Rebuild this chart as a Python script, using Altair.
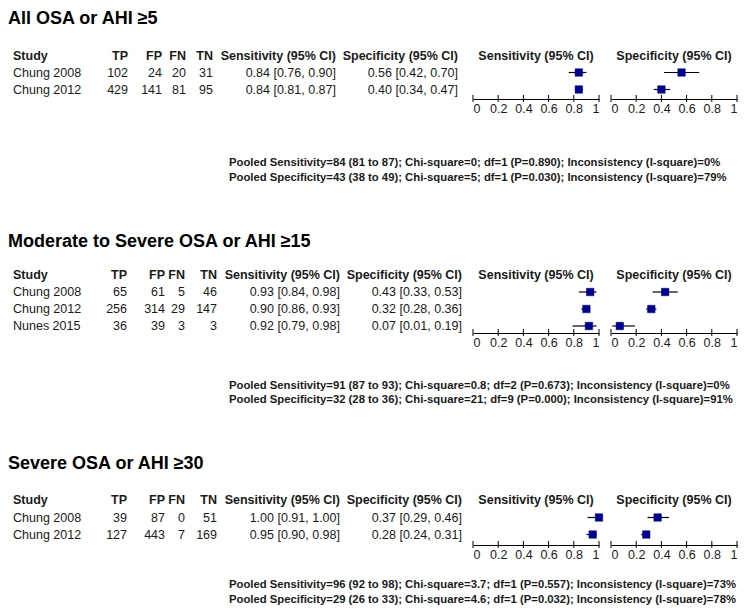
import altair as alt
import pandas as pd

# ---------------- data ----------------
section_titles = ["All OSA or AHI \u22655", "Moderate to Severe OSA or AHI \u226515", "Severe OSA or AHI \u226530"]

s1_study = ["Chung 2008", "Chung 2012"]
s1_tp = [102, 429]
s1_fp = [24, 141]
s1_fn = [20, 81]
s1_tn = [31, 95]
s1_sens = [0.84, 0.84]
s1_sens_lo = [0.76, 0.81]
s1_sens_hi = [0.90, 0.87]
s1_spec = [0.56, 0.40]
s1_spec_lo = [0.42, 0.34]
s1_spec_hi = [0.70, 0.47]
s1_pooled = [
    "Pooled Sensitivity=84 (81 to 87); Chi-square=0; df=1 (P=0.890); Inconsistency (I-square)=0%",
    "Pooled Specificity=43 (38 to 49); Chi-square=5; df=1 (P=0.030); Inconsistency (I-square)=79%",
]

s2_study = ["Chung 2008", "Chung 2012", "Nunes 2015"]
s2_tp = [65, 256, 36]
s2_fp = [61, 314, 39]
s2_fn = [5, 29, 3]
s2_tn = [46, 147, 3]
s2_sens = [0.93, 0.90, 0.92]
s2_sens_lo = [0.84, 0.86, 0.79]
s2_sens_hi = [0.98, 0.93, 0.98]
s2_spec = [0.43, 0.32, 0.07]
s2_spec_lo = [0.33, 0.28, 0.01]
s2_spec_hi = [0.53, 0.36, 0.19]
s2_pooled = [
    "Pooled Sensitivity=91 (87 to 93); Chi-square=0.8; df=2 (P=0.673); Inconsistency (I-square)=0%",
    "Pooled Specificity=32 (28 to 36); Chi-square=21; df=9 (P=0.000); Inconsistency (I-square)=91%",
]

s3_study = ["Chung 2008", "Chung 2012"]
s3_tp = [39, 127]
s3_fp = [87, 443]
s3_fn = [0, 7]
s3_tn = [51, 169]
s3_sens = [1.00, 0.95]
s3_sens_lo = [0.91, 0.90]
s3_sens_hi = [1.00, 0.98]
s3_spec = [0.37, 0.28]
s3_spec_lo = [0.29, 0.24]
s3_spec_hi = [0.46, 0.31]
s3_pooled = [
    "Pooled Sensitivity=96 (92 to 98); Chi-square=3.7; df=1 (P=0.557); Inconsistency (I-square)=73%",
    "Pooled Specificity=29 (26 to 33); Chi-square=4.6; df=1 (P=0.032); Inconsistency (I-square)=78%",
]

col_headers = ["Study", "TP", "FP", "FN", "TN", "Sensitivity (95% CI)", "Specificity (95% CI)"]
axis_ticks = [0, 0.2, 0.4, 0.6, 0.8, 1]

# ---------------- layout (page pixel positions) ----------------
FONT = "Liberation Sans"
TXT = "#1a1a1a"
NAVY = "#000090"
ORIGIN = 8
W, H = 734, 594
SENS_RANGE = [465, 591]
SPEC_RANGE = [603, 729]
POOL_X = 221
FS = 12.5
POOL_FS = 11.3

LAYOUTS = [
    dict(title=19, header=56, rows=[72.5, 89.5], axis=99,
         pooled=[163, 177.5], cols=[13, 128, 162, 186, 213, 336, 458]),
    dict(title=242, header=275, rows=[292, 309, 326], axis=333,
         pooled=[386, 400], cols=[13, 127, 165, 185, 217, 340, 462]),
    dict(title=464, header=500, rows=[517.5, 534.5], axis=545,
         pooled=[585, 599.5], cols=[13, 127, 165, 185, 217, 340, 462]),
]


def Y(v):
    return v - ORIGIN


def fmt(v, lo, hi):
    return f"{v:.2f} [{lo:.2f}, {hi:.2f}]"


def section_layers(k, title, study, tp, fp, fn, tn, se, se_lo, se_hi, sp, sp_lo, sp_hi, pooled, L):
    df = pd.DataFrame(dict(study=study, TP=tp, FP=fp, FN=fn, TN=tn,
                           se=se, se_lo=se_lo, se_hi=se_hi,
                           sp=sp, sp_lo=sp_lo, sp_hi=sp_hi))
    df["se_txt"] = [fmt(a, b, c) for a, b, c in zip(se, se_lo, se_hi)]
    df["sp_txt"] = [fmt(a, b, c) for a, b, c in zip(sp, sp_lo, sp_hi)]
    base = alt.Chart(df)

    yscale = alt.Scale(type="point", domain=study,
                       range=[Y(L["rows"][0]), Y(L["rows"][-1])], padding=0)
    yenc = alt.Y("study:N", scale=yscale, axis=None)

    layers = []
    layers.append(
        alt.Chart(pd.DataFrame({"t": [title]})).mark_text(
            align="left", baseline="middle", fontSize=18, fontWeight="bold",
            font=FONT, color="black"
        ).encode(text="t:N", x=alt.value(0), y=alt.value(Y(L["title"])))
    )
    fields = ["study", "TP", "FP", "FN", "TN", "se_txt", "sp_txt"]
    for i, (hdr, fld) in enumerate(zip(col_headers, fields)):
        align = "left" if i == 0 else "right"
        xpx = L["cols"][i] - ORIGIN
        layers.append(
            alt.Chart(pd.DataFrame({"t": [hdr]})).mark_text(
                align=align, baseline="middle", fontSize=FS, fontWeight="bold",
                font=FONT, color=TXT
            ).encode(text="t:N", x=alt.value(xpx), y=alt.value(Y(L["header"])))
        )
        layers.append(
            base.mark_text(align=align, baseline="middle", fontSize=FS,
                           font=FONT, color=TXT
                           ).encode(text=alt.Text(f"{fld}:N"), x=alt.value(xpx), y=yenc)
        )

    for rng, (c, lo, hi), hdr in [
        (SENS_RANGE, ("se", "se_lo", "se_hi"), "Sensitivity (95% CI)"),
        (SPEC_RANGE, ("sp", "sp_lo", "sp_hi"), "Specificity (95% CI)"),
    ]:
        xs = alt.Scale(domain=[0, 1], range=rng, nice=False, zero=False)
        layers.append(
            alt.Chart(pd.DataFrame({"t": [hdr]})).mark_text(
                align="center", baseline="middle", fontSize=FS, fontWeight="bold",
                font=FONT, color=TXT
            ).encode(text="t:N", x=alt.value((rng[0] + rng[1]) / 2),
                     y=alt.value(Y(L["header"])))
        )
        ay = Y(L["axis"])
        layers.append(
            alt.Chart(pd.DataFrame({"v": axis_ticks})).mark_rule(
                color="black", strokeWidth=1
            ).encode(
                x=alt.X("v:Q", scale=xs, axis=alt.Axis(
                    orient="bottom", offset=ay - H, values=axis_ticks, format="~g",
                    ticks=False, tickSize=0, grid=False, title=None,
                    domainColor="black", domainWidth=1,
                    labelFont=FONT, labelFontSize=12.5, labelColor=TXT,
                    labelPadding=3, labelFlush=True, labelOverlap=False)),
                y=alt.value(ay - 4), y2=alt.value(ay + 3),
            )
        )
        layers.append(
            base.mark_rule(color="black", strokeWidth=1.2).encode(
                x=alt.X(f"{lo}:Q", scale=xs, axis=None), x2=f"{hi}:Q", y=yenc)
        )
        layers.append(
            base.mark_square(size=56, color=NAVY, opacity=1,
                             stroke="#00006a", strokeWidth=0.5).encode(
                x=alt.X(f"{c}:Q", scale=xs, axis=None), y=yenc)
        )

    pdf = pd.DataFrame({"line": [f"{k}a", f"{k}b"], "t": pooled})
    layers.append(
        alt.Chart(pdf).mark_text(align="left", baseline="middle", fontSize=POOL_FS,
                                 fontWeight="bold", font=FONT, color=TXT).encode(
            text="t:N", x=alt.value(POOL_X),
            y=alt.Y("line:N", axis=None, scale=alt.Scale(
                type="point", domain=[f"{k}a", f"{k}b"],
                range=[Y(L["pooled"][0]), Y(L["pooled"][1])], padding=0)))
    )
    return layers


all_layers = []
all_layers += section_layers(1, section_titles[0], s1_study, s1_tp, s1_fp, s1_fn, s1_tn,
                             s1_sens, s1_sens_lo, s1_sens_hi, s1_spec, s1_spec_lo,
                             s1_spec_hi, s1_pooled, LAYOUTS[0])
all_layers += section_layers(2, section_titles[1], s2_study, s2_tp, s2_fp, s2_fn, s2_tn,
                             s2_sens, s2_sens_lo, s2_sens_hi, s2_spec, s2_spec_lo,
                             s2_spec_hi, s2_pooled, LAYOUTS[1])
all_layers += section_layers(3, section_titles[2], s3_study, s3_tp, s3_fp, s3_fn, s3_tn,
                             s3_sens, s3_sens_lo, s3_sens_hi, s3_spec, s3_spec_lo,
                             s3_spec_hi, s3_pooled, LAYOUTS[2])

chart = alt.layer(*all_layers).resolve_scale(
    x="independent", y="independent"
).resolve_axis(x="independent", y="independent").properties(
    width=W, height=H, padding=0, background="white"
).configure_view(strokeWidth=0)

chart.save("out.html", embed_options={"renderer": "svg", "actions": False})
